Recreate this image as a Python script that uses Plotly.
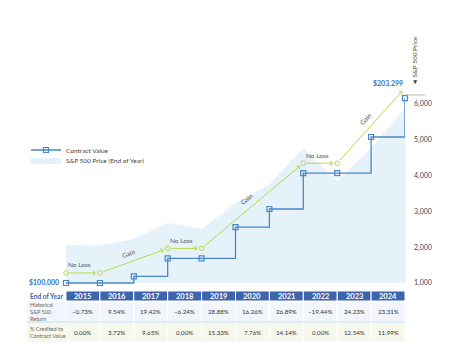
import math
import plotly.graph_objects as go

# ---------------- data ----------------
years = [2015, 2016, 2017, 2018, 2019, 2020, 2021, 2022, 2023, 2024]
point_labels = ["Start"] + [str(y) for y in years]
sp500_price = [2058.9, 2043.9, 2238.8, 2673.6, 2506.9, 3230.8, 3756.1, 4766.2, 3839.5, 4769.8, 5881.6]
contract_value = [100000, 100000, 103720, 113729, 113729, 131164, 141342, 161328, 161328, 181559, 203299]
sp500_return = ["−0.73%", "9.54%", "19.42%", "−6.24%", "28.88%", "16.26%", "26.89%", "−19.44%", "24.23%", "23.31%"]
credited = ["0.00%", "3.72%", "9.65%", "0.00%", "15.33%", "7.76%", "14.14%", "0.00%", "12.54%", "11.99%"]
row_labels = ["End of Year", "Historical<br>S&P 500<br>Return", "% Credited to<br>Contract Value"]
# crediting-period milestones (index into points) and their labels
period_points = [0, 1, 3, 4, 7, 8, 10]
period_labels = ["No Loss", "Gain", "No Loss", "Gain", "No Loss", "Gain"]
price_ticks = [1000, 2000, 3000, 4000, 5000, 6000]

# ---------------- styles ----------------
W, H = 450, 353
BLUE = "#4a86c6"
GREEN = "#b9d84a"
AREA = "#e6f2fa"
HEAD = "#3d64ad"
ROW1 = "#f2f5fb"
ROW2 = "#f6f8ec"
FONT = "Lato"
green_offset = 5600  # visual lift of the illustrative path above the contract line


def px_x(p):
    return p / W


def px_y(p):
    return (H - p) / H


x = list(range(len(point_labels)))
y_lo, y_hi = 916, 6251


def to_val(s):
    return 20 * s + 80000


fig = go.Figure()

# baseline for area
fig.add_trace(go.Scatter(x=x, y=[1000] * len(x), mode="lines", line=dict(width=0),
                         showlegend=False, hoverinfo="skip"))
fig.add_trace(go.Scatter(x=x, y=sp500_price, mode="lines", line=dict(width=0),
                         fill="tonexty", fillcolor=AREA, name="S&P 500 Price (End of Year)",
                         legend="legend2"))

# contract value step line
fig.add_trace(go.Scatter(x=x, y=contract_value, yaxis="y2", mode="lines+markers",
                         line=dict(color=BLUE, width=1.3, shape="hv"),
                         marker=dict(symbol="square-open", size=5, color=BLUE, line=dict(width=1.2)),
                         cliponaxis=False, name="Contract Value", legend="legend"))

# green illustrative path points
gx = [x[i] for i in period_points]
gy = [contract_value[i] + green_offset for i in period_points]
fig.add_trace(go.Scatter(x=gx, y=gy, yaxis="y2", mode="markers",
                         marker=dict(symbol="circle-open", size=4.5, color=GREEN, line=dict(width=1)),
                         cliponaxis=False, showlegend=False))

annotations = []
shapes = []
for k in range(len(period_points) - 1):
    x0, x1 = gx[k], gx[k + 1]
    y0, y1 = gy[k], gy[k + 1]
    annotations.append(dict(x=x1, y=y1, ax=x0, ay=y0, xref="x", yref="y2", axref="x", ayref="y2",
                            text="", showarrow=True, arrowhead=4, arrowsize=0.9, arrowwidth=1,
                            arrowcolor=GREEN, standoff=4, startstandoff=2))
    lab = period_labels[k]
    if lab == "No Loss":
        annotations.append(dict(x=(x0 + x1) / 2, y=y0, xref="x", yref="y2", text=lab,
                                showarrow=False, yshift=8, xshift=-3,
                                font=dict(family=FONT, size=6.5, color="#555")))
    else:
        dxp = (x1 - x0) * 33.9
        dyp = (y1 - y0) / 20 * 35.8 / 1000
        ang = -math.degrees(math.atan2(dyp, dxp))
        annotations.append(dict(x=(x0 + x1) / 2, y=(y0 + y1) / 2, xref="x", yref="y2", text=lab,
                                showarrow=False, textangle=ang, yshift=7, xshift=-5,
                                font=dict(family=FONT, size=6.5, color="#555")))

annotations.append(dict(x=x[0], y=contract_value[0], xref="x", yref="y2",
                        text=f"${contract_value[0]:,}", showarrow=False, xanchor="right", xshift=-5,
                        font=dict(family=FONT, size=7, color="#2f78c4", weight="bold")))
annotations.append(dict(x=x[-1], y=contract_value[-1], xref="x", yref="y2",
                        text=f"${contract_value[-1]:,}", showarrow=False, xanchor="right", yshift=15,
                        xshift=0, font=dict(family=FONT, size=7, color="#2f78c4", weight="bold")))
annotations.append(dict(x=px_x(414), y=px_y(88), xref="paper", yref="paper",
                        text="◄ S&P 500 Price", textangle=-90, showarrow=False,
                        xanchor="center", yanchor="bottom",
                        font=dict(family=FONT, size=6.5, color="#444")))

# ---------------- table (cells aligned to the x axis columns) ----------------
rows_px = [(291, 301), (302, 321.5), (322.5, 342)]
row_fills = [None, ROW1, ROW2]
label_left = 27
for r, (top, bot) in enumerate(rows_px):
    # label column
    if row_fills[r]:
        shapes.append(dict(type="rect", xref="paper", yref="paper", x0=px_x(label_left), x1=px_x(65.5),
                           y0=px_y(bot), y1=px_y(top), fillcolor=row_fills[r], line=dict(width=0),
                           layer="below"))
    annotations.append(dict(x=px_x(label_left + 1), y=px_y((top + bot) / 2), xref="paper", yref="paper",
                            text=row_labels[r], showarrow=False, xanchor="left", yanchor="middle",
                            align="left",
                            font=dict(family=FONT, size=6.6 if r == 0 else 5.5,
                                      color=HEAD if r == 0 else "#666",
                                      weight="bold" if r == 0 else "normal")))
    for i, yr in enumerate(years):
        fill = HEAD if r == 0 else row_fills[r]
        shapes.append(dict(type="rect", xref="x", yref="paper", x0=i, x1=i + 1,
                           y0=px_y(bot), y1=px_y(top), fillcolor=fill,
                           line=dict(color="white", width=1), layer="below"))
        txt = str(yr) if r == 0 else (sp500_return[i] if r == 1 else credited[i])
        annotations.append(dict(x=i + 0.5, y=px_y((top + bot) / 2), xref="x", yref="paper",
                                text=txt, showarrow=False, xanchor="center", yanchor="middle",
                                font=dict(family=FONT, size=7.5 if r == 0 else 6.2,
                                          color="white" if r == 0 else "#333",
                                          weight="bold" if r == 0 else "normal")))
# separator between body rows
shapes.append(dict(type="line", xref="paper", yref="paper", x0=px_x(27), x1=px_x(405),
                   y0=px_y(322), y1=px_y(322), line=dict(color="#bfdcee", width=1)))
# top tick of the price axis
shapes.append(dict(type="line", xref="paper", yref="paper", x0=px_x(405), x1=px_x(425),
                   y0=px_y(95), y1=px_y(95), line=dict(color="#bbbbbb", width=1)))

fig.update_layout(
    width=W, height=H, margin=dict(l=0, r=0, t=0, b=0),
    plot_bgcolor="rgba(0,0,0,0)", paper_bgcolor="white",
    font=dict(family=FONT, size=7, color="#444"),
    xaxis=dict(domain=[px_x(66), px_x(405)], range=[0, 10], visible=False),
    yaxis=dict(domain=[px_y(286), px_y(95)], range=[y_lo, y_hi], side="right",
               tickvals=price_ticks, tickformat=",", showgrid=False, zeroline=False,
               ticks="", ticklabelstandoff=8, tickfont=dict(family=FONT, size=7, color="#444")),
    yaxis2=dict(overlaying="y", range=[to_val(y_lo), to_val(y_hi)], visible=False),
    legend=dict(x=px_x(26), y=px_y(150), xanchor="left", yanchor="middle",
                bgcolor="rgba(0,0,0,0)", font=dict(family=FONT, size=6.5, color="#444"),
                itemwidth=30),
    legend2=dict(x=px_x(26), y=px_y(160), xanchor="left", yanchor="middle",
                 bgcolor="rgba(0,0,0,0)", font=dict(family=FONT, size=6.5, color="#444"),
                 itemwidth=30),
    annotations=annotations, shapes=shapes,
)

fig.write_html("out.html")
